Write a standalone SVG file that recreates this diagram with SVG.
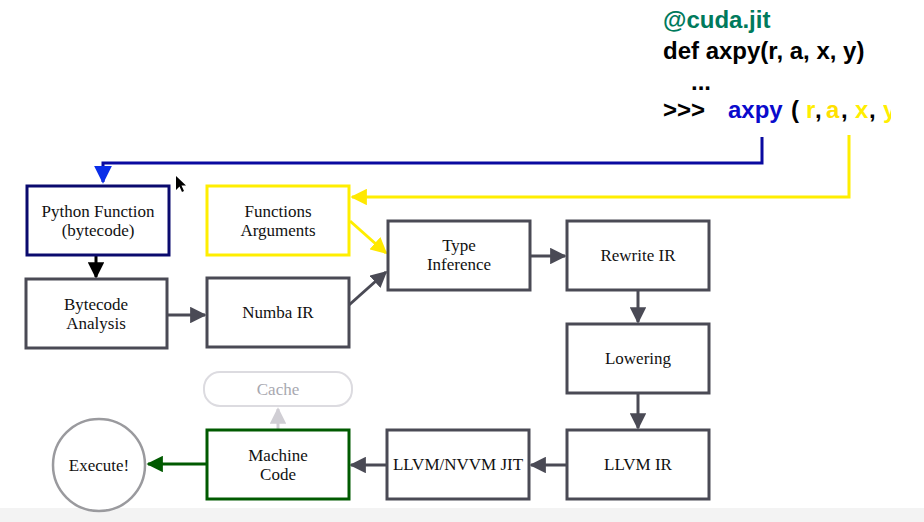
<svg xmlns="http://www.w3.org/2000/svg" width="924" height="522" viewBox="0 0 924 522">
<defs>
<style>
.box{fill:#fff;stroke:#4a4a55;stroke-width:3}
.lbl{font-family:"Liberation Serif","DejaVu Serif",serif;font-size:17px;fill:#111;text-anchor:middle}
.code{font-family:"Liberation Sans",Arial,sans-serif;font-size:24px;font-weight:bold}
.con{fill:none;stroke:#4a4a55;stroke-width:3}
</style>
<marker id="ag" viewBox="0 0 10 10" refX="9" refY="5" markerWidth="5.5" markerHeight="5.5" orient="auto" markerUnits="strokeWidth"><path d="M0,0L10,5L0,10z" fill="#4a4a55"/></marker>
<marker id="ak" viewBox="0 0 10 10" refX="9" refY="5" markerWidth="5.5" markerHeight="5.5" orient="auto" markerUnits="strokeWidth"><path d="M0,0L10,5L0,10z" fill="#000"/></marker>
<marker id="ab" viewBox="0 0 10 10" refX="9" refY="5" markerWidth="6" markerHeight="6" orient="auto" markerUnits="strokeWidth"><path d="M0,0L10,5L0,10z" fill="#0a2ee8"/></marker>
<marker id="ay" viewBox="0 0 10 10" refX="9" refY="5" markerWidth="5.5" markerHeight="5.5" orient="auto" markerUnits="strokeWidth"><path d="M0,0L10,5L0,10z" fill="#ffe800"/></marker>
<marker id="agr" viewBox="0 0 10 10" refX="9" refY="5" markerWidth="5.5" markerHeight="5.5" orient="auto" markerUnits="strokeWidth"><path d="M0,0L10,5L0,10z" fill="#005a00"/></marker>
<marker id="al" viewBox="0 0 10 10" refX="9" refY="5" markerWidth="5.5" markerHeight="5.5" orient="auto" markerUnits="strokeWidth"><path d="M0,0L10,5L0,10z" fill="#d0ced4"/></marker>
<clipPath id="cy"><rect x="883" y="95" width="8" height="35"/></clipPath>
</defs>
<rect x="0" y="0" width="924" height="522" fill="#fff"/>
<rect x="0" y="508" width="924" height="14" fill="#f3f3f3"/>

<g id="code">
<text class="code" x="663" y="28" fill="#007a5c">@cuda.jit</text>
<text class="code" x="663" y="59" fill="#000">def axpy(r, a, x, y)</text>
<text class="code" x="691" y="90" fill="#000">...</text>
<text class="code" x="663" y="118" fill="#000">&gt;&gt;&gt;</text>
<text class="code" x="728" y="118" fill="#0a0acc">axpy</text>
<text class="code" x="791" y="118" fill="#000">(</text>
<text class="code" x="806" y="118" fill="#ffee00">r</text>
<text class="code" x="815" y="118" fill="#000">,</text>
<text class="code" x="826" y="118" fill="#ffe000">a</text>
<text class="code" x="841" y="118" fill="#000">,</text>
<text class="code" x="855" y="118" fill="#ffee00">x</text>
<text class="code" x="869" y="118" fill="#000">,</text>
<text class="code" x="883" y="118" fill="#ffee00" clip-path="url(#cy)">y</text>
</g>

<g id="connectors">
<path d="M762,137V163H103V182" fill="none" stroke="#0a0aa0" stroke-width="3" marker-end="url(#ab)"/>
<path d="M849,135V197H352" fill="none" stroke="#ffee00" stroke-width="3" marker-end="url(#ay)"/>
<path d="M350,221L386,253" fill="none" stroke="#ffee00" stroke-width="3" marker-end="url(#ay)"/>
<path d="M96,256V277" fill="none" stroke="#000" stroke-width="3" marker-end="url(#ak)"/>
<path class="con" d="M168,315H205" marker-end="url(#ag)"/>
<path class="con" d="M349,305L386,272" marker-end="url(#ag)"/>
<path class="con" d="M530,256H565" marker-end="url(#ag)"/>
<path class="con" d="M638,290V322" marker-end="url(#ag)"/>
<path class="con" d="M638,393V428" marker-end="url(#ag)"/>
<path class="con" d="M567,465H531" marker-end="url(#ag)"/>
<path class="con" d="M387,465H351" marker-end="url(#ag)"/>
<path d="M207,464H148" fill="none" stroke="#005a00" stroke-width="3" marker-end="url(#agr)"/>
<path d="M278,430V409" fill="none" stroke="#d0ced4" stroke-width="3" marker-end="url(#al)"/>
</g>

<g id="python-function">
<rect x="27" y="186" width="142" height="69" fill="#fff" stroke="#0a0a6e" stroke-width="3"/>
<text class="lbl" x="98" y="217">Python Function</text>
<text class="lbl" x="98" y="236">(bytecode)</text>
</g>
<g id="functions-arguments">
<rect x="207" y="186" width="142" height="69" fill="#fff" stroke="#ffee00" stroke-width="3"/>
<text class="lbl" x="278" y="217">Functions</text>
<text class="lbl" x="278" y="236">Arguments</text>
</g>
<g id="bytecode-analysis">
<rect class="box" x="26" y="279" width="141" height="69"/>
<text class="lbl" x="96" y="310">Bytecode</text>
<text class="lbl" x="96" y="329">Analysis</text>
</g>
<g id="numba-ir">
<rect class="box" x="207" y="278" width="142" height="69"/>
<text class="lbl" x="278" y="318">Numba IR</text>
</g>
<g id="type-inference">
<rect class="box" x="388" y="221" width="142" height="69"/>
<text class="lbl" x="459" y="251">Type</text>
<text class="lbl" x="459" y="270">Inference</text>
</g>
<g id="rewrite-ir">
<rect class="box" x="567" y="221" width="142" height="69"/>
<text class="lbl" x="638" y="261">Rewrite IR</text>
</g>
<g id="lowering">
<rect class="box" x="567" y="324" width="142" height="69"/>
<text class="lbl" x="638" y="364">Lowering</text>
</g>
<g id="llvm-ir">
<rect class="box" x="567" y="430" width="142" height="69"/>
<text class="lbl" x="638" y="470">LLVM IR</text>
</g>
<g id="llvm-nvvm-jit">
<rect class="box" x="387" y="430" width="142" height="69"/>
<text class="lbl" x="458" y="470">LLVM/NVVM JIT</text>
</g>
<g id="machine-code">
<rect x="207" y="430" width="142" height="69" fill="#fff" stroke="#005a00" stroke-width="3"/>
<text class="lbl" x="278" y="461">Machine</text>
<text class="lbl" x="278" y="480">Code</text>
</g>
<g id="cache">
<rect x="204" y="372" width="148" height="34" rx="16" fill="#fff" stroke="#dcdbe0" stroke-width="2"/>
<text class="lbl" x="278" y="395" style="fill:#a8a8b0">Cache</text>
</g>
<g id="execute">
<circle cx="99" cy="465" r="46" fill="#fff" stroke="#9a9a9e" stroke-width="2.5"/>
<text class="lbl" x="99" y="471">Execute!</text>
</g>
<path d="M176,176V190L179.5,186.5L182,192L184,191L181.5,185.5L186,185.5Z" fill="#000"/>
</svg>
